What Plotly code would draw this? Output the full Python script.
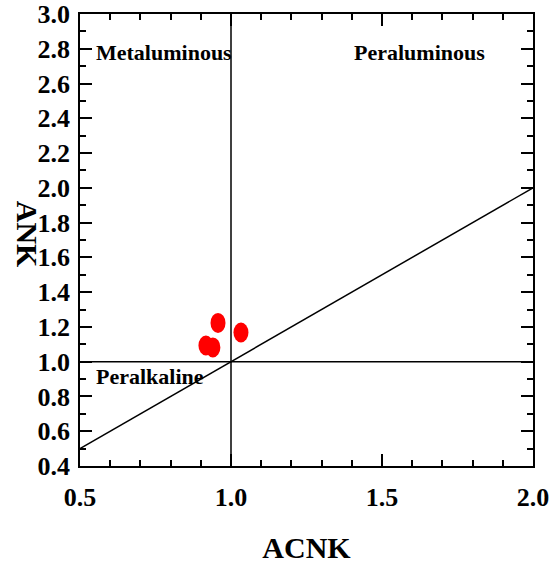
import plotly.graph_objects as go

# Sample data (A/CNK vs A/NK)
acnk = [0.917, 0.940, 0.957, 1.033]
ank = [1.093, 1.082, 1.223, 1.168]

# Boundary lines
diag_x = [0.5, 2.0]
diag_y = [0.5, 2.0]
vert_x = [1.0, 1.0]
vert_y = [0.4, 3.0]
horiz_x = [0.5, 2.0]
horiz_y = [1.0, 1.0]

# Field labels
field_names = ["Metaluminous", "Peraluminous", "Peralkaline"]
field_x = [0.545, 1.40, 0.545]
field_y = [2.776, 2.776, 0.912]

x_ticks = [0.5, 1.0, 1.5, 2.0]
y_ticks = [0.4, 0.6, 0.8, 1.0, 1.2, 1.4, 1.6, 1.8, 2.0, 2.2, 2.4, 2.6, 2.8, 3.0]

FONT = "Liberation Serif"

fig = go.Figure()
for xs, ys in [(diag_x, diag_y), (vert_x, vert_y), (horiz_x, horiz_y)]:
    fig.add_trace(go.Scatter(x=xs, y=ys, mode="lines",
                             line=dict(color="black", width=1.5),
                             hoverinfo="skip", showlegend=False))

# Samples drawn as ellipses anchored at data positions
for x, y in zip(acnk, ank):
    fig.add_shape(type="circle", xref="x", yref="y",
                  xsizemode="pixel", ysizemode="pixel",
                  xanchor=x, yanchor=y, x0=-7.5, x1=7.5, y0=-10, y1=10,
                  fillcolor="#ff0000", line=dict(width=0), layer="above")

for name, x, y in zip(field_names, field_x, field_y):
    fig.add_annotation(x=x, y=y, xref="x", yref="y", text="<b>%s</b>" % name,
                       showarrow=False, xanchor="left", yanchor="middle",
                       font=dict(family=FONT, size=22, color="black"))

# y-axis title
fig.add_annotation(x=-0.114, y=0.513, xref="paper", yref="paper",
                   xanchor="center", yanchor="middle",
                   text="<b>ANK</b>", textangle=90, showarrow=False,
                   font=dict(family=FONT, size=30, color="black"))

axis_common = dict(
    showgrid=False, zeroline=False, showline=True, linecolor="black",
    linewidth=1.5, mirror="allticks", ticks="inside", ticklen=12,
    tickwidth=1.5, tickcolor="black", automargin=False,
    ticklabeloverflow="allow",
    tickfont=dict(family=FONT, size=26, color="black"),
)

fig.update_xaxes(range=[0.5, 2.0], tickvals=x_ticks,
                 ticktext=["<b>%.1f</b>" % v for v in x_ticks],
                 ticklabelstandoff=7,
                 minor=dict(dtick=0.1, tick0=0.5, ticks="inside", ticklen=6,
                            tickwidth=1.5, tickcolor="black"),
                 title=dict(text="<b>ACNK</b>", standoff=26,
                            font=dict(family=FONT, size=30, color="black")),
                 **axis_common)
fig.update_yaxes(range=[0.4, 3.0], tickvals=y_ticks,
                 ticktext=["<b>%.1f</b>" % v for v in y_ticks],
                 ticklabelstandoff=3,
                 minor=dict(dtick=0.1, tick0=0.4, ticks="inside", ticklen=6,
                            tickwidth=1.5, tickcolor="black"),
                 **axis_common)

fig.update_layout(
    width=553, height=564,
    margin=dict(l=80, r=20, t=14, b=98),
    paper_bgcolor="white", plot_bgcolor="white",
    showlegend=False,
)

# remove the default page margin so the figure sits at the window's corner
fig.write_html("out.html", config={"displayModeBar": False},
               post_script="document.body.style.margin='0';")
